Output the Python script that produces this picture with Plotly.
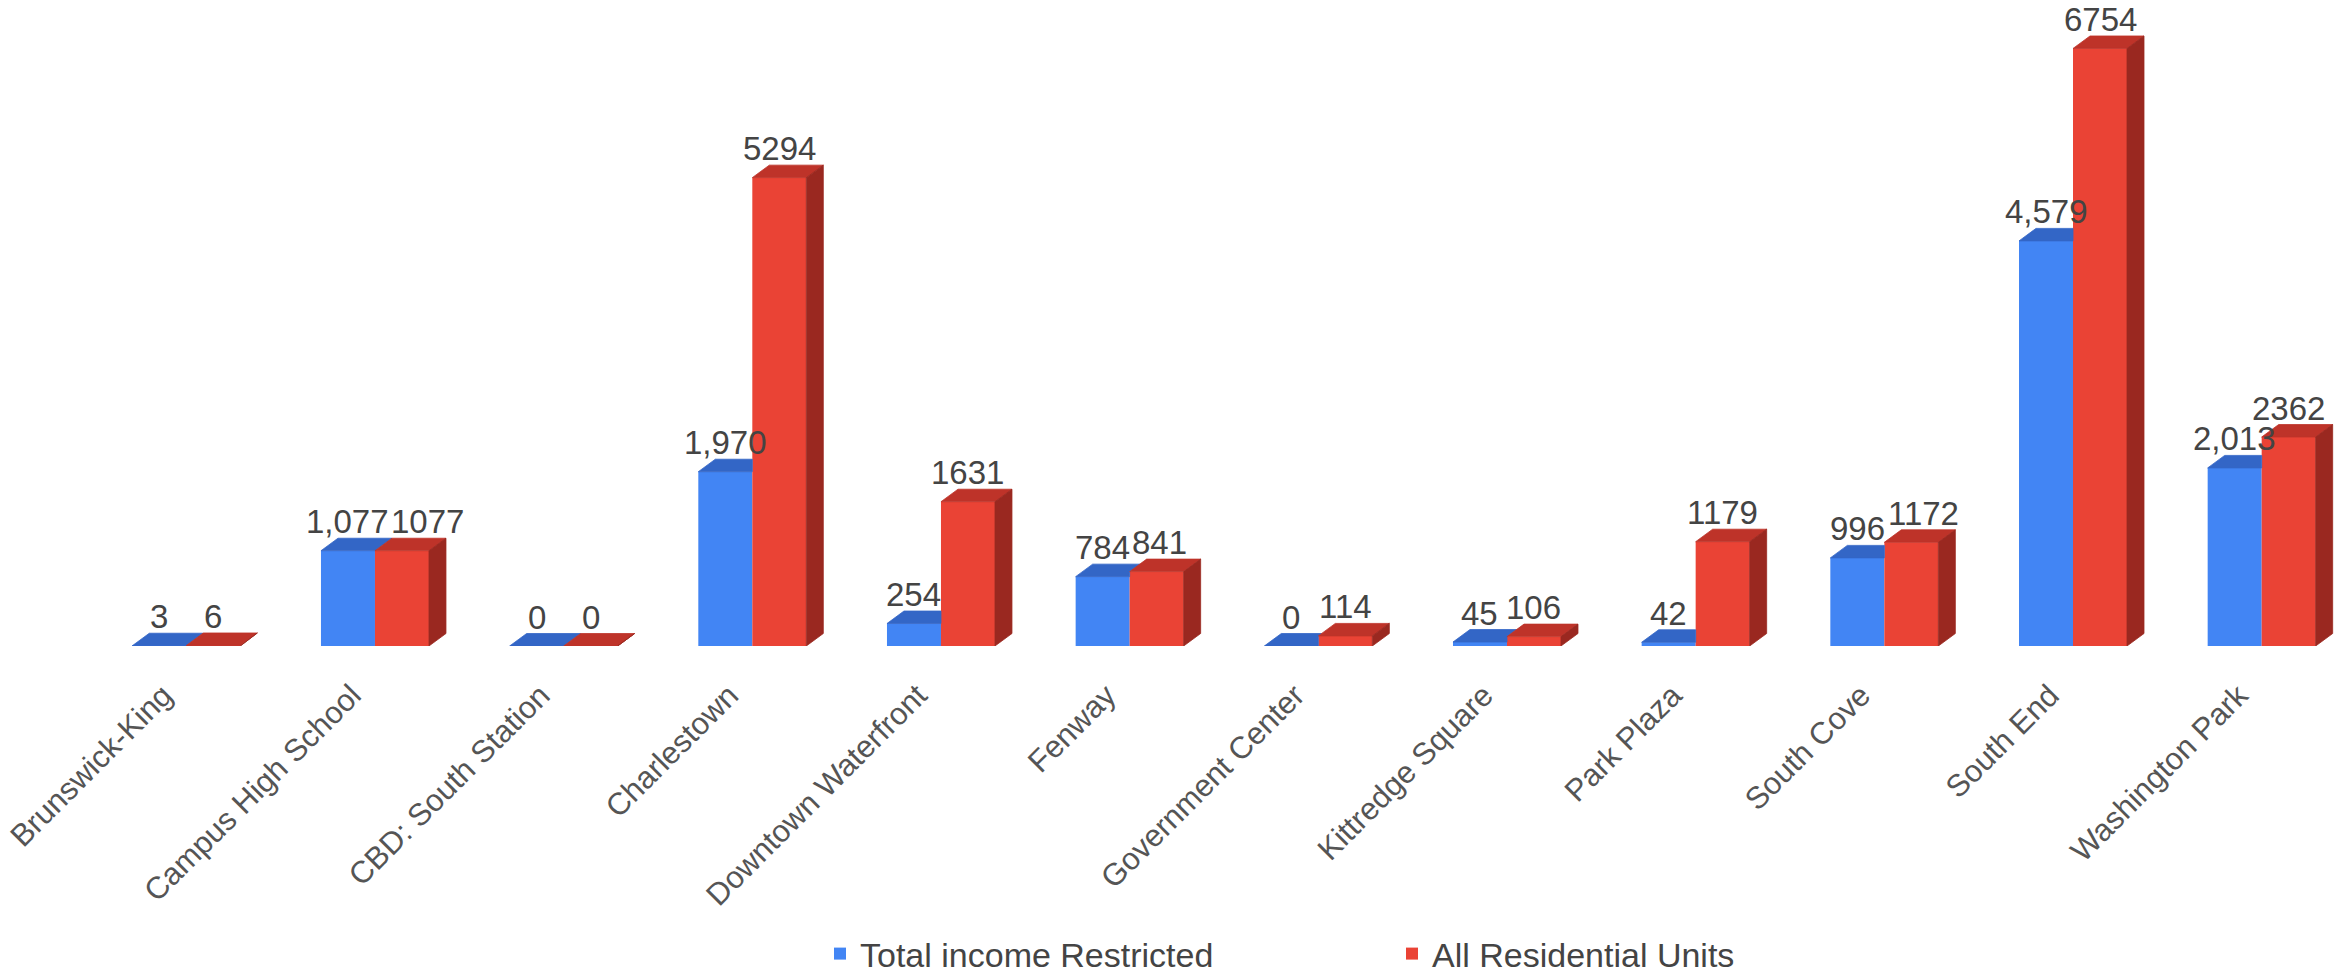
import plotly.graph_objects as go

# ---------------- data ----------------
categories = [
    "Brunswick-King", "Campus High School", "CBD: South Station", "Charlestown",
    "Downtown Waterfront", "Fenway", "Government Center", "Kittredge Square",
    "Park Plaza", "South Cove", "South End", "Washington Park",
]
restricted = [3, 1077, 0, 1970, 254, 784, 0, 45, 42, 996, 4579, 2013]
all_units = [6, 1077, 0, 5294, 1631, 841, 114, 106, 1179, 1172, 6754, 2362]

series_names = ["Total income Restricted", "All Residential Units"]

# ---------------- style / geometry ----------------
BLUE_FRONT = "#4285F4"
BLUE_TOP = "#3366C6"
RED_FRONT = "#EA4335"
RED_TOP = "#BE3329"
RED_SIDE = "#9A2820"
TEXT = "#444444"
FONT = "Liberation Sans, Arial, sans-serif"
LABEL_SIZE = 33

W, H = 2348, 976
m_l, m_r, m_t, m_b = 0, 0, 0, 330
cat0_px = 186.3
cat_step_px = 188.67
plot_w = W - m_l - m_r
plot_h = H - m_t - m_b
x_min = -(cat0_px - m_l) / cat_step_px
x_max = x_min + plot_w / cat_step_px
px_per_y = 0.08847
y_max = plot_h / px_per_y

bar_w = 54 / cat_step_px
depth_px_x, depth_px_y = 17, 12.5
dX = depth_px_x / cat_step_px
dY = depth_px_y / px_per_y

# approximate Arial glyph advance widths (em) for label collision avoidance
ADV = {",": 0.278, " ": 0.278}


def text_w(s):
    return sum(ADV.get(c, 0.556) for c in s) * LABEL_SIZE


n = len(categories)
xs = list(range(n))

fig = go.Figure()
fig.add_trace(go.Bar(x=xs, y=restricted, width=bar_w, offset=-bar_w,
                     marker=dict(color=BLUE_FRONT, line=dict(width=0)),
                     name=series_names[0], hoverinfo="skip"))
fig.add_trace(go.Bar(x=xs, y=all_units, width=bar_w, offset=0,
                     marker=dict(color=RED_FRONT, line=dict(width=0)),
                     name=series_names[1], hoverinfo="skip"))


def face(px, py, color):
    fig.add_trace(go.Scatter(x=px, y=py, mode="lines", fill="toself",
                             fillcolor=color, line=dict(color=color, width=0.8),
                             showlegend=False, hoverinfo="skip"))


annotations = []
for i, (b, r) in enumerate(zip(restricted, all_units)):
    x0, x1, x2 = i - bar_w, i, i + bar_w
    # blue top face, clipped where the red box sits in front of it
    r_clip = min(max(r, b), b + dY)
    t = min(max((b + dY - r) / dY, 0), 1)
    face([x0, x1, x1, x1 + t * dX, x0 + dX, x0],
         [b, b, r_clip, b + dY, b + dY, b], BLUE_TOP)
    if b > r:
        face([x1, x1 + dX, x1 + dX, x1, x1], [0, dY, b + dY, b, 0], RED_SIDE)
    # red top + side
    face([x1, x2, x2 + dX, x1 + dX, x1], [r, r, r + dY, r + dY, r], RED_TOP)
    face([x2, x2 + dX, x2 + dX, x2, x2], [0, dY, r + dY, r, 0], RED_SIDE)

    bt, rt = f"{b:,}", f"{r}"
    # shift the red label right when it would collide with the blue one
    shift = 0.0
    if abs(r - b) * px_per_y < 0.72 * LABEL_SIZE:
        blue_right = -bar_w / 2 * cat_step_px + text_w(bt) / 2
        red_left = bar_w / 2 * cat_step_px - text_w(rt) / 2
        if red_left < blue_right + 2:
            shift = blue_right + 2 - red_left

    annotations.append(dict(x=i - bar_w / 2, y=b, text=bt, showarrow=False,
                            xanchor="center", yanchor="bottom", yshift=depth_px_y - 4,
                            font=dict(size=LABEL_SIZE, color=TEXT, family=FONT)))
    annotations.append(dict(x=i + bar_w / 2, y=r, text=rt, showarrow=False,
                            xanchor="center", yanchor="bottom", yshift=depth_px_y - 4,
                            xshift=shift,
                            font=dict(size=LABEL_SIZE, color=TEXT, family=FONT)))

fig.update_layout(
    width=W, height=H,
    margin=dict(l=m_l, r=m_r, t=m_t, b=m_b, pad=0),
    paper_bgcolor="white", plot_bgcolor="white",
    barmode="overlay",
    font=dict(family=FONT, color=TEXT, size=31),
    annotations=annotations,
    showlegend=True,
    legend=dict(orientation="h", xref="container", yref="container",
                x=820 / W, y=(H - 954) / H, xanchor="left", yanchor="middle",
                font=dict(size=34, color=TEXT, family=FONT),
                entrywidth=527, entrywidthmode="pixels",
                bgcolor="rgba(0,0,0,0)", traceorder="normal"),
    xaxis=dict(range=[x_min, x_max], tickmode="array", tickvals=xs, ticktext=categories,
               tickangle=-45, showgrid=False, zeroline=False, showline=False, ticks="",
               ticklabelstandoff=24, ticklabelshift=-23, ticklabeloverflow="allow",
               tickfont=dict(size=31, color="#555555", family=FONT), fixedrange=True),
    yaxis=dict(range=[0, y_max], visible=False, showgrid=False, zeroline=False,
               fixedrange=True),
)

fig.write_html("out.html")
